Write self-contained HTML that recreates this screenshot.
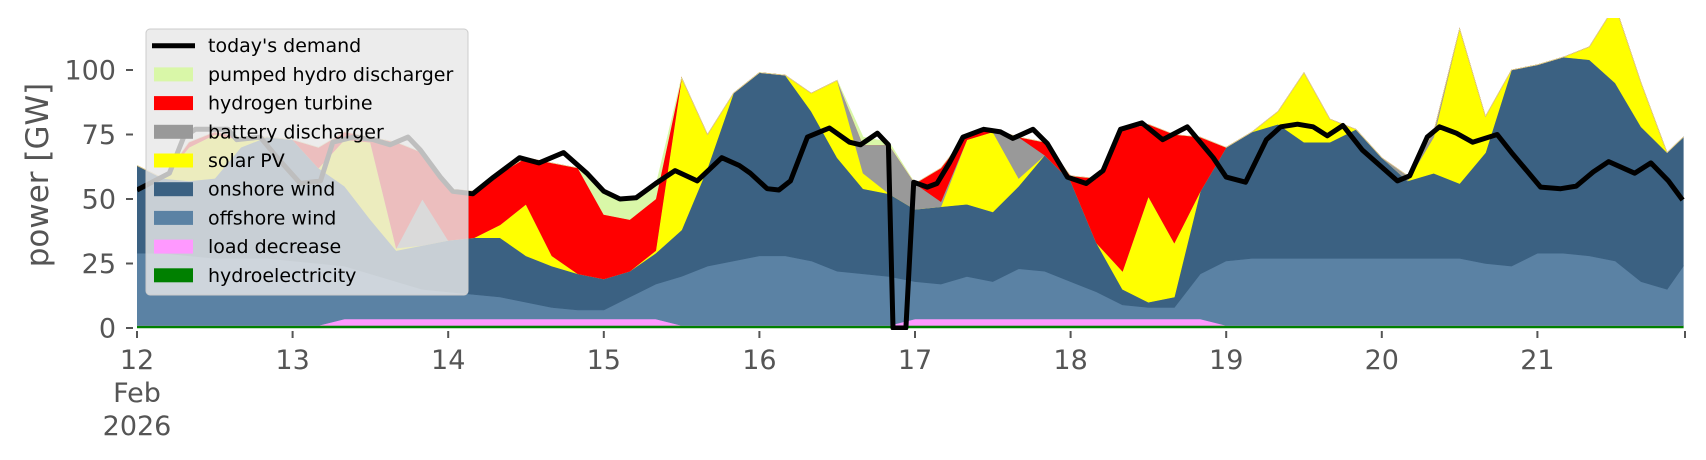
<!DOCTYPE html>
<html><head><meta charset="utf-8"><style>
body{margin:0;background:#fff;}
svg{display:block;font-family:"DejaVu Sans","Liberation Sans",sans-serif;}
</style></head><body>
<svg id="chart" width="1706" height="460" viewBox="0 0 1706 460" xmlns="http://www.w3.org/2000/svg">
<defs><clipPath id="plotclip"><rect x="137" y="18" width="1548" height="312"/></clipPath></defs>
<g id="areas" clip-path="url(#plotclip)"></g>
<g id="demand" clip-path="url(#plotclip)"></g>
<g id="yaxis"></g>
<g id="xaxis"></g>
<text x="0" y="0" transform="translate(48,175) rotate(-90)" text-anchor="middle" font-size="31" fill="#555">power [GW]</text>
<g id="legend"></g>
</svg>
<script>
// ---- data (GW) on a 4-hour grid ----
const hours = [0,4,8,12,16,20,24,28,32,36,40,44,48,52,56,60,64,68,72,76,80,84,88,92,96,100,104,108,112,116,120,124,128,132,136,140,144,148,152,156,160,164,168,172,176,180,184,188,192,196,200,204,208,212,216,220,224,228,232,236,238.5];
const hydro = [1,1,1,1,1,1,1,1,1,1,1,1,1,1,1,1,1,1,1,1,1,1,1,1,1,1,1,1,1,1,1,1,1,1,1,1,1,1,1,1,1,1,1,1,1,1,1,1,1,1,1,1,1,1,1,1,1,1,1,1,1];
const loadDecrease = [0,0,0,0,0,0,0,0,2.5,2.5,2.5,2.5,2.5,2.5,2.5,2.5,2.5,2.5,2.5,2.5,2.5,0,0,0,0,0,0,0,0,0,2.5,2.5,2.5,2.5,2.5,2.5,2.5,2.5,2.5,2.5,2.5,2.5,0,0,0,0,0,0,0,0,0,0,0,0,0,0,0,0,0,0,0];
const offshore = [28,28,27,26,26,26,25,24,20.5,17.5,14.5,11.5,10.5,9.5,8.5,6.5,4.5,3.5,3.5,8.5,13.5,19,23,25,27,27,25,21,20,19,14.5,13.5,16.5,14.5,19.5,18.5,14.5,10.5,5.5,4.5,4.5,17.5,25,26,26,26,26,26,26,26,26,26,24,23,28,28,27,25,17,14,23];
const onshore = [34,29,29,31,43,47,47,37,31,21,12,17,20,22,23,18,16,14,12,10,12,18,38,65,71,70,58,44,33,32,28,30,28,27,32,45,39,19,6,2,4,32,44,49,52,45,45,50,39,30,33,29,43,76,73,76,76,69,60,53,50];
const solar = [0,0,13,17,3,0,0,0,18,30,1,0,0,0,5,20,4,0,0,0,1,59,13,0,0,0,7,30,6,0,0,0,25,31,3,0,0,0,7,41,21,0,0,0,5,27,9,0,0,0,14,60,14,0,0,0,5,30,17,0,0];
const battery = [0,0,0,0,0,0,0,0,0,0,0,18,0,0,0,0,0,0,0,0,0,0,0,0,0,0,0,0,11,19,10,2,0,0,16,0,0,0,0,0,0,0,0,0,0,0,0,0,0,2,2,0,0,0,0,0,0,0,0,0,0];
const hydrogen = [0,0,2,1,1,0,0,8,3,2,41,18,20,18,20,18,36,41,25,20,20,0,0,0,0,0,0,0,0,0,0,13,2,1,0,5,2,25,55,28,42,21,0,0,0,0,0,0,0,0,0,0,0,0,0,0,0,0,0,0,0];
const pumpedHydro = [0,0,0,0,0,0,0,0,0,0,0,0,0,0,0,0,0,0,8,8,5,0,0,0,0,0,0,0,3,1,0,0,0,0,0,0,0,0,0,0,0,0,0,0,0,0,0,0,0,0,0,0,0,0,0,0,0,0,0,0,0];
// demand line (own sample times, hours since 12 Feb 00:00)
const demandHours = [0,5,7.2,9,14,15.4,19,22,25.2,28.3,30.2,33.4,36.5,39,41.8,43.7,46.8,48.7,51.8,55,59,62,65.8,69.4,72,74.5,77,80,83,86.4,90.2,92.9,94.6,97.2,99,100.8,103.4,106.8,109.9,111.6,114.2,115.9,116.6,118.6,119.8,121.9,123.4,125.3,127.4,130.6,133.2,135.1,138.2,140.4,143.5,146.4,149,151.7,155,158.2,162,166,168,171,174.2,176.4,179,181.4,183.6,186,189,194.4,196.3,199,200.9,203.5,206,209.8,212,216.5,219.6,222,224.6,227,231,233.5,236.2,238.4];
const demand = [53.5,60,74,77,77,73,74,65,56,57,72,74,73,71,74,69,58.5,53,52,58.5,66,64,68,60,53,50,50.5,56,61,57,66,63,60,54,53.5,57,74,77.5,72,71,75.5,71,0,0,56.5,54.6,56,64,74,77,76,73.5,77,71.5,58.5,56,61,77,79.5,73,78,66,58.5,56.5,73,78,79,78,74.5,78.5,69,57,59,74,78,75.5,72,75,68,54.6,54,55,60.5,64.5,60,64,57,49.6];
const yTicks = [0,25,50,75,100];
const xTickLabels = ["12","13","14","15","16","17","18","19","20","21"];

const NS="http://www.w3.org/2000/svg";
const X0=137, PXDAY=155.6, Y0=328, PXGW=2.58;
const xs = h => X0 + h/24*PXDAY;
const ys = v => Y0 - v*PXGW;
function mk(tag, attrs, parent){const e=document.createElementNS(NS,tag);for(const k in attrs)e.setAttribute(k,attrs[k]);parent.appendChild(e);return e;}

const layers = [
 {name:"hydroelectricity-area", data:hydro, color:"#008000"},
 {name:"load-decrease-area", data:loadDecrease, color:"#ff99ff"},
 {name:"offshore-wind-area", data:offshore, color:"#5b82a4"},
 {name:"onshore-wind-area", data:onshore, color:"#3b6182"},
 {name:"solar-pv-area", data:solar, color:"#ffff00"},
 {name:"battery-discharger-area", data:battery, color:"#999999"},
 {name:"hydrogen-turbine-area", data:hydrogen, color:"#ff0000"},
 {name:"pumped-hydro-area", data:pumpedHydro, color:"#d9f7a8"}
];
const areasG=document.getElementById('areas');
let base = hours.map(()=>0);
layers.forEach(L=>{
  const top = base.map((b,i)=>b+L.data[i]);
  let pts = hours.map((h,i)=>xs(h).toFixed(1)+","+ys(top[i]).toFixed(1));
  for(let i=hours.length-1;i>=0;i--) pts.push(xs(hours[i]).toFixed(1)+","+ys(base[i]).toFixed(1));
  const p=mk('polygon',{points:pts.join(" "),fill:L.color,stroke:L.color,'stroke-width':0.6},areasG);
  
  
  base = top;
});
// demand line
const dG=document.getElementById('demand');
const dl=mk('polyline',{points:demandHours.map((h,i)=>xs(h).toFixed(1)+","+ys(demand[i]).toFixed(1)).join(" "),fill:"none",stroke:"#000",'stroke-width':5,'stroke-linejoin':'round'},dG);



// y axis
const yG=document.getElementById('yaxis');
yTicks.forEach(v=>{
  const t=mk('line',{x1:126,x2:133,y1:ys(v),y2:ys(v),stroke:"#555",'stroke-width':2},yG);
  
  
  const l=mk('text',{x:116,y:ys(v)+9.5,'text-anchor':'end','font-size':27,fill:"#555"},yG);
  l.textContent=String(v);
  
  
});
// x axis
const xG=document.getElementById('xaxis');
for(let d=0; d<=10; d++){
  const xx = d==10 ? 1685 : X0+d*PXDAY;
  const t=mk('line',{x1:xx,x2:xx,y1:331,y2:338,stroke:"#555",'stroke-width':2},xG);
  
  
  if(d<10){
    const l=mk('text',{x:xx,y:369,'text-anchor':'middle','font-size':27,fill:"#555"},xG);
    l.textContent=xTickLabels[d];
    
    
  }
}
const feb=mk('text',{x:X0,y:402,'text-anchor':'middle','font-size':27,fill:"#555"},xG);
feb.textContent="Feb";


const yr=mk('text',{x:X0,y:435,'text-anchor':'middle','font-size':27,fill:"#555"},xG);
yr.textContent="2026";



// legend
const lg=document.getElementById('legend');
const box=mk('rect',{x:146,y:29,width:322,height:266,rx:4,fill:"#e8e8e8",'fill-opacity':0.82,stroke:"#cccccc",'stroke-width':1},lg);


const entries=[["today's demand",null],["pumped hydro discharger","#d9f7a8"],["hydrogen turbine","#ff0000"],["battery discharger","#999999"],["solar PV","#ffff00"],["onshore wind","#3b6182"],["offshore wind","#5b82a4"],["load decrease","#ff99ff"],["hydroelectricity","#008000"]];
entries.forEach((e,i)=>{
  const cy=45.7+i*28.7;
  if(e[1]===null){
    const s=mk('line',{x1:152,x2:195,y1:cy,y2:cy,stroke:"#000",'stroke-width':5},lg);
    
    
  } else {
    const s=mk('rect',{x:154,y:cy-7,width:39,height:14,fill:e[1]},lg);
    
    
  }
  const t=mk('text',{x:208,y:cy+6.5,'font-size':19,fill:"#000"},lg);
  t.textContent=e[0];
  
  
});
</script>
</body></html>
